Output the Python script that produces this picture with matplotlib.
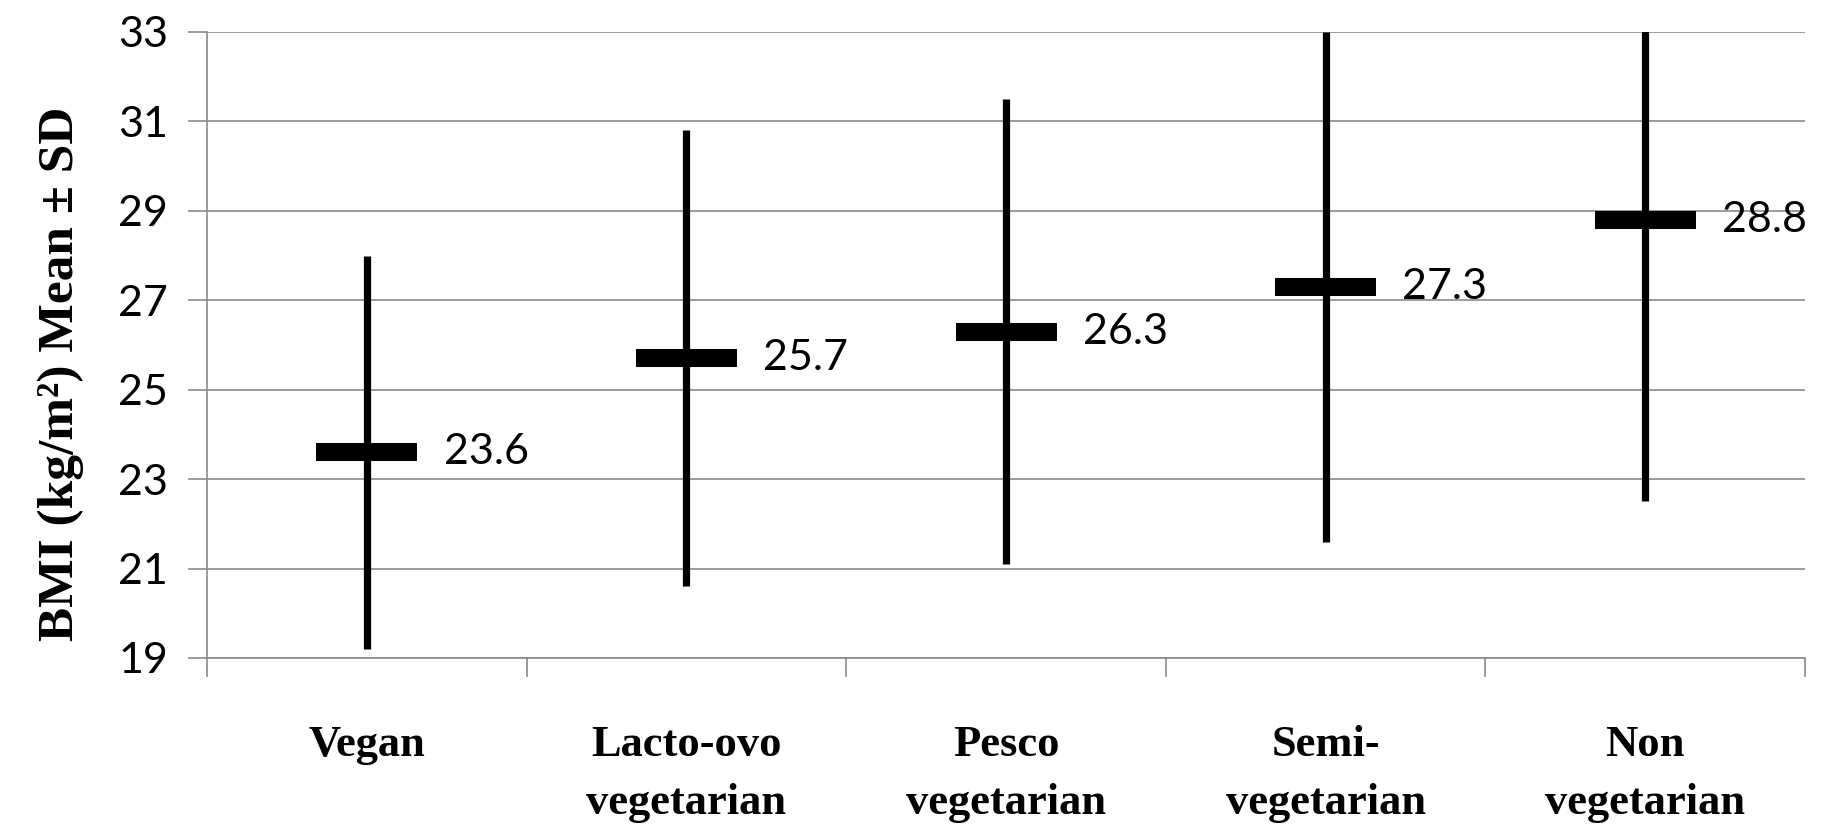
import matplotlib
matplotlib.use("Agg")
import matplotlib.pyplot as plt

# diet groups and BMI mean / SD
groups = ["Vegan", "Lacto-ovo\nvegetarian", "Pesco\nvegetarian",
          "Semi-\nvegetarian", "Non\nvegetarian"]
means = [23.6, 25.7, 26.3, 27.3, 28.8]
sds = [4.4, 5.1, 5.2, 5.7, 6.3]
yticks = [19, 21, 23, 25, 27, 29, 31, 33]

num_font = "Lato"
cat_font = "Liberation Serif"
grey = "#8a8a8a"

fig = plt.figure(figsize=(18.21, 8.26), dpi=100)
ax = fig.add_axes([0.1137, 0.2034, 0.8775, 0.7579])

x = list(range(len(groups)))
lows = [m - s for m, s in zip(means, sds)]
highs = [m + s for m, s in zip(means, sds)]

ax.vlines(x, lows, highs, color="black", lw=5.2, zorder=3)
ax.hlines(means, [i - 0.158 for i in x], [i + 0.158 for i in x],
          color="black", lw=13, zorder=4)
for i, m in zip(x, means):
    ax.text(i + 0.24, m, f"{m:.1f}", ha="left", va="center",
            fontsize=31, family=num_font, clip_on=False)

ax.set_xlim(-0.5, len(groups) - 0.5)
ax.set_ylim(19, 33)
ax.set_yticks(yticks)
ax.set_yticklabels([str(t) for t in yticks], fontsize=31, family=num_font)
ax.yaxis.grid(True, color=grey, lw=1.2)
ax.set_axisbelow(True)

ax.set_xticks(x)
ax.set_xticklabels(groups, fontsize=32, family=cat_font, fontweight="bold",
                   linespacing=1.6)
ax.set_xticks([i - 0.5 for i in range(len(groups) + 1)], minor=True)
ax.tick_params(axis="x", which="major", length=0, pad=48)
ax.tick_params(axis="x", which="minor", length=14, width=1.2, color=grey,
               direction="out")
ax.tick_params(axis="y", length=14, width=1.2, color=grey, pad=14)

for side in ["top", "right"]:
    ax.spines[side].set_visible(False)
for side in ["left", "bottom"]:
    ax.spines[side].set_color(grey)
    ax.spines[side].set_linewidth(1.2)

fig.text(61 / 1821, 1 - 374 / 826, "BMI (kg/m²) Mean ± SD", rotation=90,
         ha="center", va="center", fontsize=37, family=cat_font,
         fontweight="bold")

fig.savefig("out.png", dpi=100)
